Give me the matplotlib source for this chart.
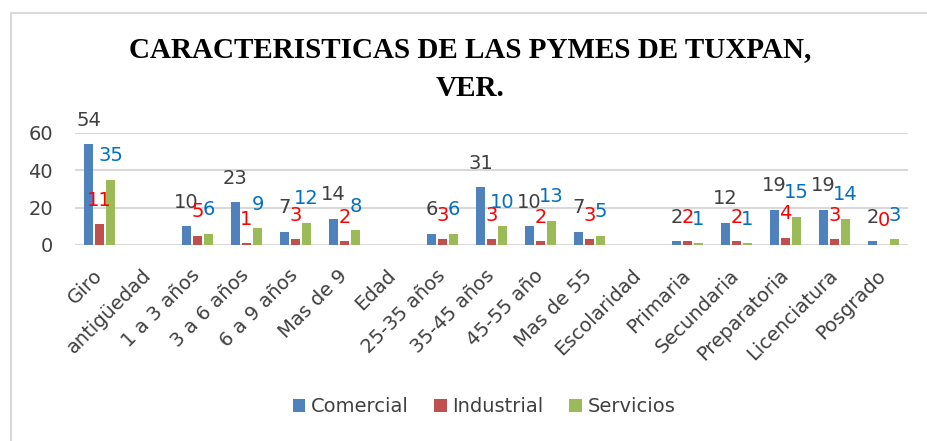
import matplotlib.pyplot as plt
from matplotlib.lines import Line2D
from matplotlib.transforms import ScaledTranslation
import numpy as np

categorias = ['Giro', 'antigüedad', '1 a 3 años', '3 a 6 años', '6 a 9 años', 'Mas de 9',
              'Edad', '25-35 años', '35-45 años', '45-55 año', 'Mas de 55', 'Escolaridad',
              'Primaria', 'Secundaria', 'Preparatoria', 'Licenciatura', 'Posgrado']
comercial = [54, None, 10, 23, 7, 14, None, 6, 31, 10, 7, None, 2, 12, 19, 19, 2]
industrial = [11, None, 5, 1, 3, 2, None, 3, 3, 2, 3, None, 2, 2, 4, 3, 0]
servicios = [35, None, 6, 9, 12, 8, None, 6, 10, 13, 5, None, 1, 1, 15, 14, 3]

series = [('Comercial', comercial, '#4F81BD', '#404040'),
          ('Industrial', industrial, '#C0504D', '#FF0000'),
          ('Servicios', servicios, '#9BBB59', '#0070C0')]

fig = plt.figure(figsize=(9.27, 4.41), dpi=100)
ax = fig.add_axes([75 / 927, 1 - 245 / 441, 833 / 927, 112 / 441])

x = np.arange(len(categorias))
w = 0.18
for i, (nombre, vals, color, lcolor) in enumerate(series):
    xs = x + (i - 1) * 0.225
    h = [np.nan if v is None else v for v in vals]
    ax.bar(xs, h, width=w, color=color, label=nombre, zorder=3)
    for xi, v in zip(xs, vals):
        if v is None:
            continue
        ax.annotate(str(v), (xi, v), xytext=(0, 24), textcoords='offset pixels',
                    ha='center', va='center', fontsize=14, color=lcolor, zorder=4)

ax.set_xlim(-0.5, len(categorias) - 0.5)
ax.set_ylim(0, 60)
ax.set_yticks([0, 20, 40, 60])
ax.grid(axis='y', color='#D9D9D9', linewidth=1.5, zorder=0)
for s in ax.spines.values():
    s.set_visible(False)
ax.tick_params(axis='y', length=0, labelsize=14, labelcolor='#404040', pad=16)
ax.tick_params(axis='x', length=0, labelsize=14, labelcolor='#404040', pad=15)
ax.set_xticks(x)
ax.set_xticklabels(categorias, rotation=45, ha='right', rotation_mode='anchor')
for lbl in ax.get_xticklabels():
    lbl.set_transform(lbl.get_transform() + ScaledTranslation(-0.07, 0, fig.dpi_scale_trans))

fig.text(470 / 927, 1 - 50 / 441, 'CARACTERISTICAS DE LAS PYMES DE TUXPAN,', ha='center', va='center',
         fontsize=21, fontweight='bold', family='Liberation Serif')
fig.text(470 / 927, 1 - 88 / 441, 'VER.', ha='center', va='center',
         fontsize=21, fontweight='bold', family='Liberation Serif')

fig.legend(loc='center', bbox_to_anchor=(484 / 927, 1 - 407 / 441), ncol=3, frameon=False,
           fontsize=14, handlelength=0.65, handleheight=0.65, handletextpad=0.3, columnspacing=1.3,
           labelcolor='#404040')

fig.add_artist(Line2D([10.5 / 927, 1], [1 - 12.5 / 441, 1 - 12.5 / 441], color='#D9D9D9', lw=1.5,
                      transform=fig.transFigure))
fig.add_artist(Line2D([10.5 / 927, 10.5 / 927], [0, 1 - 12.5 / 441], color='#D9D9D9', lw=1.5,
                      transform=fig.transFigure))

fig.savefig('out.png', dpi=100)
